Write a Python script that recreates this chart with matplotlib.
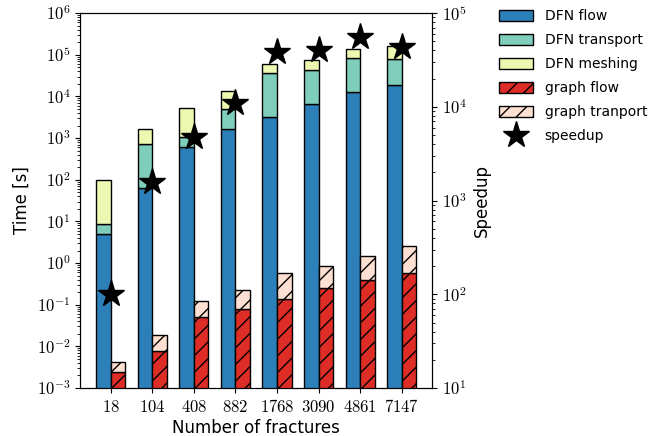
import matplotlib
matplotlib.use("Agg")
import matplotlib.pyplot as plt
import matplotlib.ticker as mticker
import numpy as np

plt.rcParams['mathtext.fontset'] = 'cm'
plt.rcParams['hatch.linewidth'] = 1.0

fractures = ["18", "104", "408", "882", "1768", "3090", "4861", "7147"]

# stacked segment sizes (seconds)
dfn_flow = [4.9, 64.5, 620, 1675, 3190, 6670, 12900, 18400]
dfn_transport = [3.7, 654, 450, 3215, 33800, 36230, 68800, 58900]
dfn_meshing = [91, 900, 4180, 8810, 23800, 30200, 55300, 83700]
graph_flow = [0.00238, 0.00787, 0.0497, 0.0773, 0.137, 0.256, 0.398, 0.565]
graph_transport = [0.00175, 0.0111, 0.0728, 0.148, 0.428, 0.594, 1.05, 2.03]
speedup = [100, 1590, 4720, 11040, 38600, 40300, 55900, 43700]

x = np.arange(len(fractures))
w = 0.35

fig = plt.figure(figsize=(6.57, 4.36), dpi=100)
ax = fig.add_axes([0.122, 0.110, 0.536, 0.860])

b1 = np.array(dfn_flow)
b2 = b1 + np.array(dfn_transport)
h1 = ax.bar(x - w / 2, dfn_flow, w, color="#2c7fb8", edgecolor="black", label="DFN flow")
h2 = ax.bar(x - w / 2, dfn_transport, w, bottom=b1, color="#7fcdbb", edgecolor="black", label="DFN transport")
h3 = ax.bar(x - w / 2, dfn_meshing, w, bottom=b2, color="#edf8b1", edgecolor="black", label="DFN meshing")
h4 = ax.bar(x + w / 2, graph_flow, w, color="#de2d26", edgecolor="black", hatch="//", label="graph flow")
h5 = ax.bar(x + w / 2, graph_transport, w, bottom=graph_flow, color="#fee0d2", edgecolor="black",
            hatch="//", label="graph tranport")

ax.set_yscale("log")
ax.set_ylim(1e-3, 1e6)
ax.yaxis.set_major_locator(mticker.LogLocator(base=10, numticks=20))
ax.yaxis.set_minor_locator(mticker.LogLocator(base=10, subs=np.arange(2, 10), numticks=100))
ax.yaxis.set_minor_formatter(mticker.NullFormatter())
ax.yaxis.set_major_formatter(mticker.FuncFormatter(lambda v, p: r"$10^{%d}$" % round(np.log10(v))))
ax.set_xticks(x)
ax.set_xticklabels([r"$%s$" % f for f in fractures])
ax.tick_params(labelsize=12)
ax.set_xlabel("Number of fractures", fontsize=12, labelpad=2)
ax.set_ylabel("Time [s]", fontsize=12)

ax2 = ax.twinx()
h6, = ax2.plot(x, speedup, linestyle="none", marker="*", markersize=20, color="black", label="speedup")
ax2.set_yscale("log")
ax2.set_ylim(1e1, 1e5)
ax2.yaxis.set_major_locator(mticker.LogLocator(base=10, numticks=20))
ax2.yaxis.set_minor_locator(mticker.LogLocator(base=10, subs=np.arange(2, 10), numticks=100))
ax2.yaxis.set_minor_formatter(mticker.NullFormatter())
ax2.yaxis.set_major_formatter(mticker.FuncFormatter(lambda v, p: r"$10^{%d}$" % round(np.log10(v))))
ax2.tick_params(labelsize=12)
ax2.set_ylabel("Speedup", fontsize=12)

ax.legend(handles=[h1, h2, h3, h4, h5, h6], loc="upper left", bbox_to_anchor=(1.153, 1.043),
          frameon=False, fontsize=10, handlelength=2.5, handleheight=0.85, labelspacing=0.72)

fig.savefig("out.png", dpi=100)
